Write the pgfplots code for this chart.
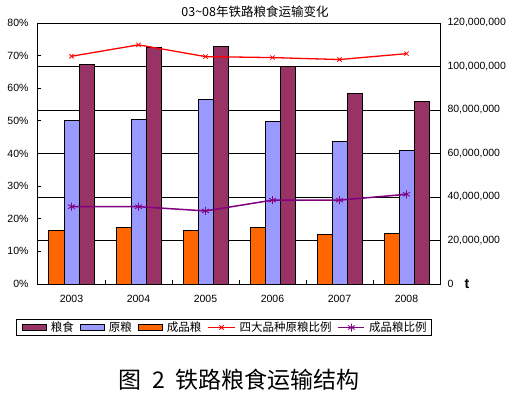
\documentclass[border=0pt]{standalone}
\usepackage{fontspec}
\setmainfont{Liberation Sans}
\newfontfamily\cjk{Noto Sans CJK SC}
\usepackage{pgfplots}
\usepackage{pgfplotstable}
\pgfplotsset{compat=1.18}
\definecolor{grain}{HTML}{993366}
\definecolor{rawc}{HTML}{9999FF}
\definecolor{fin}{HTML}{FF6600}
\definecolor{ratioA}{HTML}{FF0000}
\definecolor{ratioB}{HTML}{800080}

% values in million t
\pgfplotstableread{
x grain raw fin
0 101.0 75.3 24.7
1 108.8 75.7 26.1
2 109.4 84.9 24.7
3 99.9 74.9 26.1
4 87.8 65.6 22.8
5 83.7 61.5 23.3
}\bars

% ratios in percent
\pgfplotstableread{
x a b
0 69.8 23.7
1 73.3 23.7
2 69.7 22.4
3 69.4 25.7
4 68.8 25.7
5 70.6 27.5
}\ratios

\begin{document}
\begin{tikzpicture}[x=1pt,y=1pt]
\begin{axis}[
  at={(38pt,113pt)}, anchor=south west,
  scale only axis, width=402pt, height=261pt,
  xmin=-0.5, xmax=5.5, ymin=0, ymax=120,
  ybar, bar width=15pt,
  xtick={0,1,2,3,4,5},
  xticklabels={2003,2004,2005,2006,2007,2008},
  minor xtick={0.5,1.5,2.5,3.5,4.5},
  major x tick style={draw=none},
  minor tick length=4pt,
  xtick pos=bottom,
  tick align=inside,
  ytick={0,20,40,60,80,100,120},
  yticklabels={0,{20,000,000},{40,000,000},{60,000,000},{80,000,000},{100,000,000},{120,000,000}},
  ytick pos=right, yticklabel pos=right,
  major tick length=0pt,
  ymajorgrids, grid style={black, line width=1pt},
  axis line style={black, line width=1pt},
  tick style={black, line width=1pt},
  tick label style={font=\fontsize{10.5}{12}\selectfont, text=black},
  yticklabel style={xshift=4pt},
  xticklabel style={yshift=-8pt},
]
\addplot[fill=grain, draw=black, line width=1pt, bar shift=15pt] table[x=x,y=grain]{\bars};
\addplot[fill=rawc, draw=black, line width=1pt, bar shift=0pt] table[x=x,y=raw]{\bars};
\addplot[fill=fin, draw=black, line width=1pt, bar shift=-15pt] table[x=x,y=fin]{\bars};
\end{axis}
\begin{axis}[
  at={(38pt,113pt)}, anchor=south west,
  scale only axis, width=402pt, height=261pt,
  xmin=-0.5, xmax=5.5, ymin=0, ymax=80,
  axis y line*=left, hide x axis,
  ytick={0,10,20,30,40,50,60,70,80},
  yticklabels={0\%,10\%,20\%,30\%,40\%,50\%,60\%,70\%,80\%},
  tick align=inside, major tick length=3pt,
  axis line style={black, line width=1pt},
  tick style={black, line width=1pt},
  tick label style={font=\fontsize{10.5}{12}\selectfont, text=black},
  yticklabel style={xshift=-6pt},
  legend columns=5,
  legend style={at={(0.4634,-0.1667)}, anchor=center, draw=black, line width=1pt,
    font=\cjk\fontsize{11.5}{13}\selectfont, inner xsep=5pt, inner ysep=2pt,
    /tikz/every odd column/.append style={column sep=4pt},
    /tikz/every even column/.append style={column sep=6pt},
    nodes={inner sep=0pt}},
  legend cell align=left,
]
\addlegendimage{legend image code/.code={\draw[fill=grain,draw=black,line width=1pt] (0pt,-3pt) rectangle (24pt,3pt);}}
\addlegendimage{legend image code/.code={\draw[fill=rawc,draw=black,line width=1pt] (0pt,-3pt) rectangle (24pt,3pt);}}
\addlegendimage{legend image code/.code={\draw[fill=fin,draw=black,line width=1pt] (0pt,-3pt) rectangle (24pt,3pt);}}
\addplot[ratioA, line width=1.3pt, mark=x, mark size=3pt, mark options={line width=0.8pt},
  legend image code/.code={\draw[ratioA,line width=1.3pt] (0pt,0pt) -- (27pt,0pt); \draw[ratioA,line width=0.8pt] plot[mark=x,mark size=3pt] coordinates {(13.5pt,0pt)};}]
  table[x=x,y=a]{\ratios};
\addplot[ratioB, line width=1.5pt, mark=asterisk, mark size=4pt, mark options={line width=0.8pt},
  legend image code/.code={\draw[ratioB,line width=1.5pt] (0pt,0pt) -- (26pt,0pt); \draw[ratioB,line width=0.8pt] plot[mark=asterisk,mark size=4pt] coordinates {(13pt,0pt)};}]
  table[x=x,y=b]{\ratios};
\legend{粮食,原粮,成品粮,四大品种原粮比例,成品粮比例}
\end{axis}
\node[font=\cjk\fontsize{12.5}{14}\selectfont] at (255,385) {03\textasciitilde08年铁路粮食运输变化};
\node[anchor=base west, font=\bfseries\fontsize{14}{16}\selectfont] at (461,109) {t};
\node[font=\cjk\fontsize{23}{27}\selectfont] at (239,17) {图\hspace{11.5pt}\makebox[11.5pt]{2}\hspace{11.5pt}铁路粮食运输结构};
\pgfresetboundingbox
\path (0,0) rectangle (517,397);
\end{tikzpicture}
\end{document}
